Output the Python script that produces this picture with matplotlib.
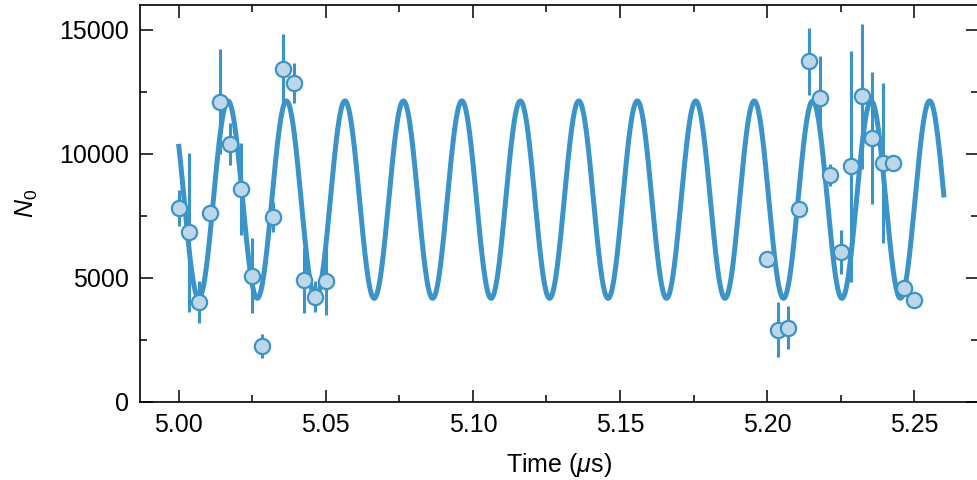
import numpy as np
import matplotlib
matplotlib.use("Agg")
import matplotlib.pyplot as plt
from matplotlib.ticker import MultipleLocator

plt.rcParams['font.family'] = ['Liberation Sans', 'DejaVu Sans']
plt.rcParams['mathtext.fontset'] = 'custom'
plt.rcParams['mathtext.rm'] = 'Liberation Sans'
plt.rcParams['mathtext.it'] = 'Liberation Sans:italic'

# Measured points (time in microseconds)
t_left = [5.0000, 5.0035, 5.0070, 5.0107, 5.0142, 5.0176, 5.0212, 5.0249,
          5.0284, 5.0321, 5.0356, 5.0391, 5.0427, 5.0463, 5.0500]
n_left = [7805, 6830, 4015, 7600, 12094, 10400, 8570, 5090,
          2250, 7450, 13430, 12850, 4890, 4240, 4880]
e_left = [730, 3200, 850, 300, 2120, 840, 1850, 1510,
          500, 590, 1410, 800, 1300, 640, 1380]

t_right = [5.2000, 5.2036, 5.2071, 5.2107, 5.2143, 5.2178, 5.2214, 5.2250,
           5.2286, 5.2321, 5.2357, 5.2393, 5.2428, 5.2464, 5.2500]
n_right = [5760, 2900, 2980, 7776, 13721, 12236, 9149, 6041,
           9492, 12316, 10642, 9633, 9633, 4568, 4092]
e_right = [250, 1106, 860, 250, 1356, 1720, 440, 890,
           4650, 2935, 2670, 3230, 250, 250, 250]

# Sinusoidal fit parameters
fit_offset = 8150.0
fit_amp = 3980.0
fit_period = 0.019867
fit_peak = 5.0168
fit_tmin, fit_tmax = 5.000, 5.2601

blue = '#3a94c9'
light = '#bdd7e8'

fig = plt.figure(figsize=(9.78, 4.80), dpi=100)
ax = fig.add_axes([0.1431, 0.1631, 0.8569, 0.8265])

tf = np.linspace(fit_tmin, fit_tmax, 2000)
nf = fit_offset + fit_amp * np.cos(2 * np.pi * (tf - fit_peak) / fit_period)
ax.plot(tf, nf, color=blue, lw=3.6, zorder=2, solid_capstyle='butt')

t_all = t_left + t_right
n_all = n_left + n_right
e_all = e_left + e_right
ax.errorbar(t_all, n_all, yerr=e_all, fmt='o', color=blue, ecolor=blue,
            elinewidth=2.2, capsize=0, ms=11, mfc=light, mec=blue, mew=1.6,
            zorder=3)

ax.set_xlim(4.98688, 5.27164)
ax.set_ylim(0, 16000)
ax.xaxis.set_major_locator(MultipleLocator(0.05))
ax.xaxis.set_minor_locator(MultipleLocator(0.025))
ax.yaxis.set_major_locator(MultipleLocator(5000))
ax.yaxis.set_minor_locator(MultipleLocator(2500))
ax.xaxis.set_major_formatter(matplotlib.ticker.FormatStrFormatter('%.2f'))
ax.tick_params(which='both', direction='in', top=True, right=True,
               labelsize=18, width=1.1, pad=8)
ax.tick_params(which='major', length=9)
ax.tick_params(which='minor', length=5)
for s in ax.spines.values():
    s.set_linewidth(1.2)

ax.set_xlabel(r'Time ($\mu$s)', fontsize=18, labelpad=10)
ax.set_ylabel(r'$N_0$', fontsize=18, labelpad=14)

fig.savefig('out.png', dpi=100)
